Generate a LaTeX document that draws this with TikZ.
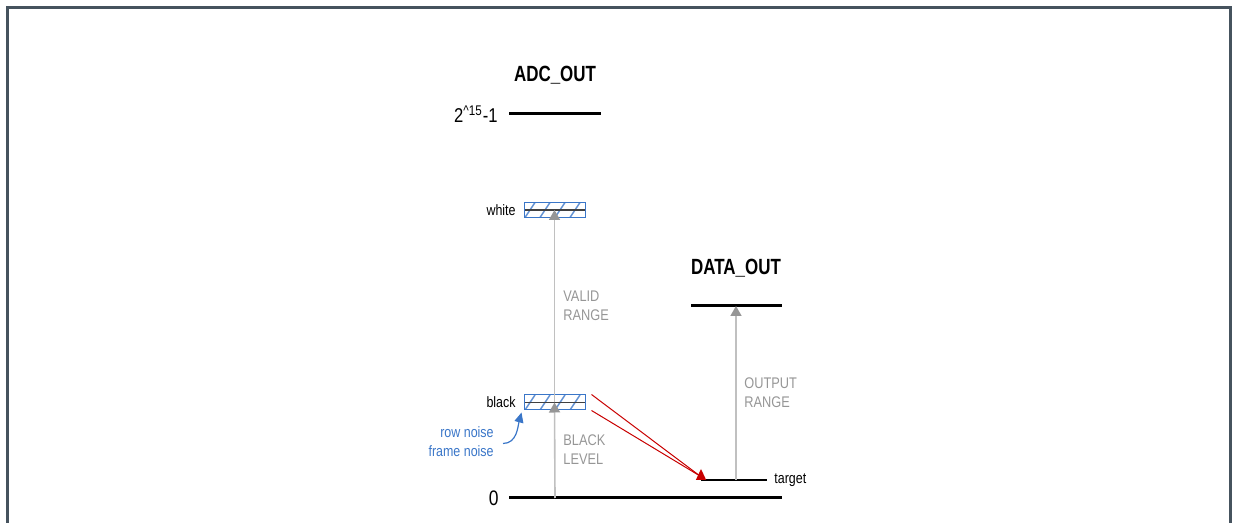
\documentclass[tikz,border=0pt]{standalone}
\usepackage{fontspec}
\setmainfont[FakeStretch=0.83]{Liberation Sans}
\newfontfamily\headfont[FakeStretch=0.77]{Liberation Sans}
\usetikzlibrary{arrows.meta}

\definecolor{framecol}{RGB}{70,83,94}
\definecolor{rangeline}{RGB}{192,192,192}
\definecolor{rangetip}{RGB}{150,150,150}
\definecolor{rangetext}{RGB}{150,150,150}
\definecolor{noiseblue}{RGB}{58,118,200}
\definecolor{redc}{RGB}{200,0,0}

\tikzset{
  frame/.style={draw=framecol, line width=1.5pt},
  level/.style={line width=1.5pt},
  rangearrow/.style={draw=rangeline, line width=0.8pt, -{Triangle[length=5pt,width=5.5pt,color=rangetip]}},
  rangelabel/.style={text=rangetext, align=left, anchor=west, inner sep=0pt,
    font=\fontsize{7.7}{9.5}\selectfont},
  lbl/.style={inner sep=0pt, font=\fontsize{7.5}{9}\selectfont},
  head/.style={inner sep=0pt, font=\headfont\bfseries\fontsize{11}{13}\selectfont},
  noisebox/.style={draw=noiseblue, line width=0.5pt, minimum width=30.5pt, minimum height=7.5pt,
    inner sep=0pt, path picture={
      \foreach \s in {0.5,8,15.5,23}
        \draw[noiseblue!80, line width=0.7pt]
          ([xshift=\s pt]path picture bounding box.south west) -- ++(5pt,7.5pt);
      \draw[black!75, line width=0.6pt]
        (path picture bounding box.west) -- (path picture bounding box.east);
    }},
  noisearrow/.style={draw=noiseblue, line width=0.6pt, -{Triangle[length=5pt,width=4.5pt]}},
  redline/.style={draw=redc, line width=0.5pt},
}

\begin{document}
\begin{tikzpicture}[x=0.5pt,y=-0.5pt]
\useasboundingbox (0,0) rectangle (1237,523);
\draw[frame] (7.5,540) -- (7.5,7.5) -- (1230.5,7.5) -- (1230.5,540);

% ADC side
\node[head] (adc) at (555,75) {ADC\_OUT};
\coordinate (adcL) at (509,114);
\coordinate (adcR) at (601,114);
\draw[level] (adcL) -- (adcR);
\node[inner sep=0pt, anchor=east, font=\fontsize{10}{12}\selectfont] (max) at (498,114)
  {2\textsuperscript{\^{}15}-1};

\coordinate (zeroL) at (509,498);
\coordinate (zeroR) at (782,498);
\coordinate (zeroA) at (555,498);
\draw[level] (zeroL) -- (zeroR);
\node[inner sep=0pt, anchor=east, font=\fontsize{10.5}{12}\selectfont] (zero) at (499,498) {0};

\node[noisebox] (white) at (554.5,210) {};
\node[noisebox] (black) at (554.5,402.5) {};
\node[lbl, anchor=east] (whitetxt) at (516,210) {white};
\node[lbl, anchor=east] (blacktxt) at (516,402.5) {black};

\draw[rangearrow] (zeroA) -- (black.center);
\draw[rangearrow] (black.center) -- (white.center);
\node[rangelabel] (valid) at (563,306) {VALID\\RANGE};
\node[rangelabel] (blacklvl) at (563,450) {BLACK\\LEVEL};

\node[lbl, anchor=east, align=right, text=noiseblue, font=\fontsize{7.5}{9.5}\selectfont]
  (noise) at (494,441.5) {row noise\\frame noise};
\draw[noisearrow] ([xshift=4.5pt,yshift=-1pt]noise.east) to[out=0,in=-105]
  ([xshift=-1pt,yshift=-1pt]black.south west);

% DATA side
\node[head] (data) at (736,268) {DATA\_OUT};
\coordinate (dataL) at (691,306);
\coordinate (dataR) at (782,306);
\coordinate (dataA) at (736,306);
\draw[level] (dataL) -- (dataR);

\coordinate (tgtL) at (701,480);
\coordinate (tgtR) at (767,480);
\coordinate (tgtA) at (736,480);
\draw[line width=0.6pt] (tgtL) -- (tgtR);
\node[lbl, anchor=west] (tgt) at (774,480) {target};

\draw[rangearrow] (tgtA) -- (dataA);
\node[rangelabel] (outrng) at (744,392.5) {OUTPUT\\RANGE};

\coordinate (tgtP) at (700,476);
\draw[redline] ([xshift=3pt]black.north east) -- (tgtP);
\draw[redline] ([xshift=3pt]black.south east) -- (tgtP);
\fill[redc] ([yshift=5.5pt]tgtL) -- ([xshift=-2.6pt]tgtL) -- ([xshift=2.6pt]tgtL) -- cycle;
\end{tikzpicture}
\end{document}
